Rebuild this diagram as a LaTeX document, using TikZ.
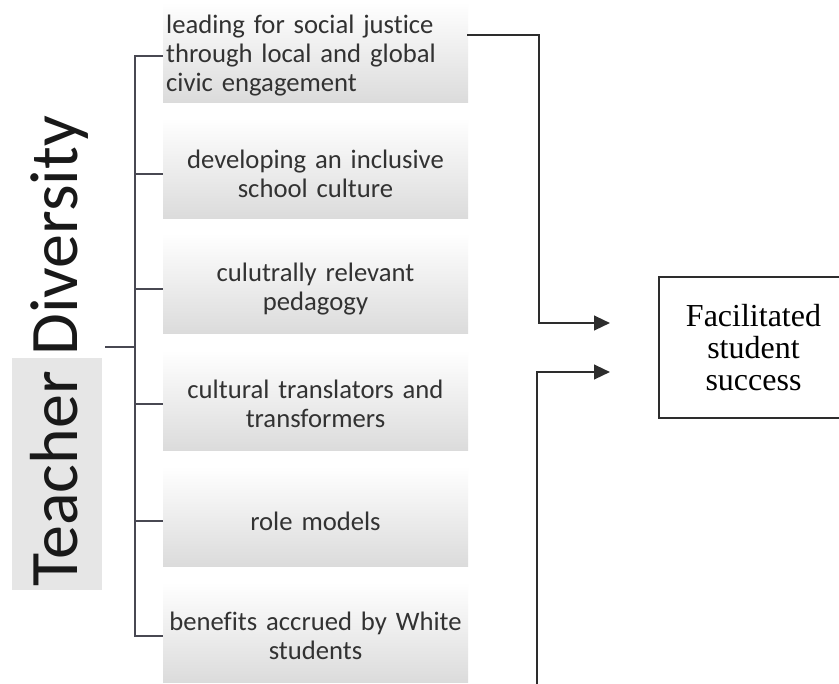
\documentclass[tikz,border=0pt]{standalone}
\usepackage{fontspec}
\setmainfont{Liberation Serif}
\newfontfamily\calibrilike[Ligatures={NoCommon}]{Carlito}
\usetikzlibrary{arrows.meta,calc}

\definecolor{itemtext}{RGB}{50,50,50}
\definecolor{bracketcol}{RGB}{72,72,82}
\definecolor{linecol}{RGB}{45,45,45}
\definecolor{titlebg}{RGB}{230,230,230}

\tikzset{
  itemlabel/.style={inner xsep=2.4pt, inner ysep=0pt, text width=224pt,
    align=center, text=itemtext,
    font=\calibrilike\fontsize{20pt}{21.75pt}\selectfont},
  itemshade/.style={top color=white, bottom color=black!14},
  bracket/.style={draw=bracketcol, line width=1.1pt},
  flow/.style={draw=linecol, line width=1.7pt},
  flowarrow/.style={flow, -{Triangle[length=12pt,width=11pt]}},
  outcome/.style={draw=linecol, line width=1.5pt, minimum width=141.75pt,
    minimum height=105.75pt, align=center, inner sep=0pt,
    font=\fontsize{24pt}{24pt}\selectfont},
  titlelabel/.style={rotate=90, anchor=base west, inner sep=0pt,
    text=black!90, font=\calibrilike\fontsize{51pt}{60pt}\selectfont}
}

\begin{document}
\begin{tikzpicture}[x=0.75pt,y=-0.75pt]
  \clip (0,0) rectangle (839,683);
  \fill[white] (0,0) rectangle (839,683);

  % shaded panels behind the six items
  \foreach \b in {102,218,333,450,566,682}
    \shade[itemshade] (163,\b-100) rectangle (468,\b);

  % title panel and vertical title
  \fill[titlebg] (12,358) rectangle (102,590);
  \node[titlelabel] (td) at (77,587) {Teacher Diversity};
  \coordinate (hub) at (105,347);

  % the six items
  \node[itemlabel, align=left] (i1) at (315.5,56)
    {leading for social justice\\through local and global\\civic engagement};
  \node[itemlabel] (i2) at (315.5,174) {developing an inclusive\\school culture};
  \node[itemlabel] (i3) at (315.5,289) {culutrally relevant\\pedagogy};
  \node[itemlabel] (i4) at (315.5,404) {cultural translators and\\transformers};
  \node[itemlabel] (i5) at (315.5,521) {role models};
  \node[itemlabel] (i6) at (315.5,636) {benefits accrued by White\\students};

  % bracket joining the items to the title
  \coordinate (spine) at (135,347);
  \draw[bracket] (i1.west) -- (i1.west -| spine) -- (i6.west -| spine) -- (i6.west);
  \foreach \n in {2,3,4,5}
    \draw[bracket] (i\n.west) -- (i\n.west -| spine);
  \draw[bracket] (hub) -- (spine);

  % outcome box
  \node[outcome] (fss) at (753.5,347.5) {Facilitated\\student\\success};

  % connectors into the outcome
  \coordinate (upstart) at (467,35);
  \coordinate (uptip) at (610,323);
  \coordinate (lowstart) at (537,690);
  \coordinate (lowtip) at (610,372);
  \draw[flowarrow] (upstart) -| (539,323) -- (uptip);
  \draw[flowarrow] (lowstart) |- (lowtip);
\end{tikzpicture}
\end{document}
